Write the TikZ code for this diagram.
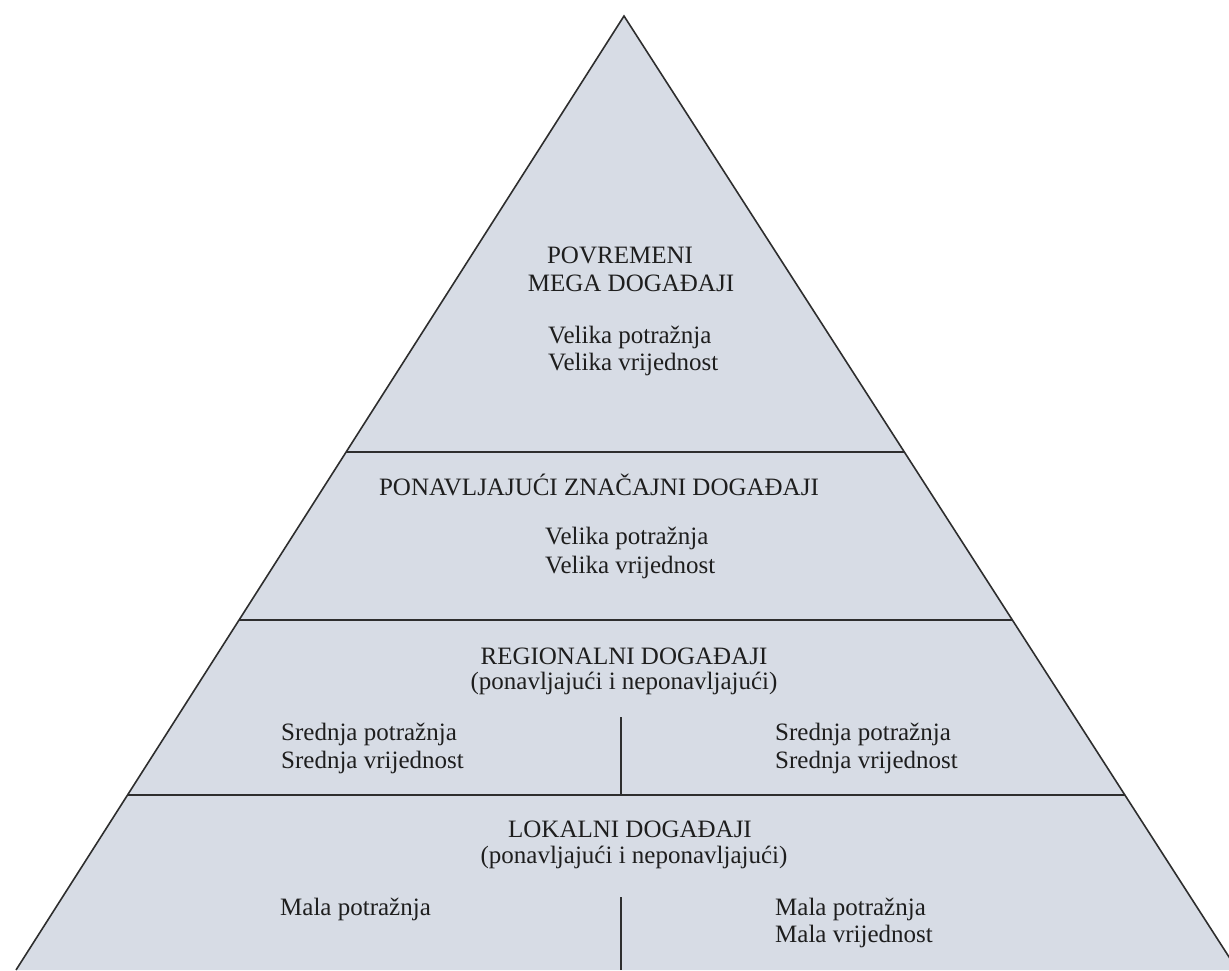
\documentclass[tikz,border=0pt]{standalone}
\usepackage{fontspec}
\setmainfont{Liberation Serif}
\usetikzlibrary{calc}
\definecolor{pyrfill}{HTML}{D7DCE5}
\definecolor{pyrline}{HTML}{2E2E2E}
\definecolor{txt}{HTML}{1E1E1E}
\begin{document}
\begin{tikzpicture}[x=1pt,y=-1pt,
  lbl/.style={inner sep=0pt,text=txt,font=\fontsize{25}{29}\selectfont},
  ctr/.style={lbl,anchor=base},
  lft/.style={lbl,anchor=base west},
  sep/.style={draw=pyrline,line width=1.8pt},
  edge/.style={draw=pyrline,line width=1.6pt,line join=miter}]
\useasboundingbox (0,0) rectangle (1229,970);
\coordinate (apex) at (624,16);
\coordinate (bl) at (16,970);
\coordinate (br) at (1237.4,970);
\begin{scope}
\clip (0,0) rectangle (1229,970);
\fill[pyrfill] (apex) -- (bl) -- (br) -- cycle;
\draw[edge] (bl) -- (apex) -- (br);
\end{scope}
% horizontal separators
\coordinate (l1) at ($(apex)!0.4570!(bl)$);
\coordinate (r1) at ($(apex)!0.4570!(br)$);
\coordinate (l2) at ($(apex)!0.6331!(bl)$);
\coordinate (r2) at ($(apex)!0.6331!(br)$);
\coordinate (l3) at ($(apex)!0.8166!(bl)$);
\coordinate (r3) at ($(apex)!0.8166!(br)$);
\draw[sep] (l1) -- (r1);
\draw[sep] (l2) -- (r2);
\draw[sep] (l3) -- (r3);
% vertical dividers
\coordinate (d1t) at (621,717);
\coordinate (d2t) at (621,897);
\coordinate (d2b) at (621,970);
\draw[sep] (d1t) -- (d1t |- l3);
\draw[sep] (d2t) -- (d2b);
% top tier
\node[ctr] (t1a) at (620,263) {POVREMENI};
\node[ctr] (t1b) at (631,291) {MEGA DOGAĐAJI};
\node[lft] (t1c) at (548,343) {Velika potražnja};
\node[lft] (t1d) at (548,370) {Velika vrijednost};
% second tier
\node[ctr] (t2a) at (599,495) {PONAVLJAJUĆI ZNAČAJNI DOGAĐAJI};
\node[lft] (t2b) at (545,544) {Velika potražnja};
\node[lft] (t2c) at (545,573) {Velika vrijednost};
% third tier
\node[ctr] (t3a) at (624,664) {REGIONALNI DOGAĐAJI};
\node[ctr] (t3b) at (624,689) {(ponavljajući i neponavljajući)};
\node[lft] (t3c) at (281,740) {Srednja potražnja};
\node[lft] (t3d) at (281,768) {Srednja vrijednost};
\node[lft] (t3e) at (775,740) {Srednja potražnja};
\node[lft] (t3f) at (775,768) {Srednja vrijednost};
% bottom tier
\node[ctr] (t4a) at (630,837) {LOKALNI DOGAĐAJI};
\node[ctr] (t4b) at (634,863) {(ponavljajući i neponavljajući)};
\node[lft] (t4c) at (280,915) {Mala potražnja};
\node[lft] (t4d) at (775,915) {Mala potražnja};
\node[lft] (t4e) at (775,942) {Mala vrijednost};
\end{tikzpicture}
\end{document}
